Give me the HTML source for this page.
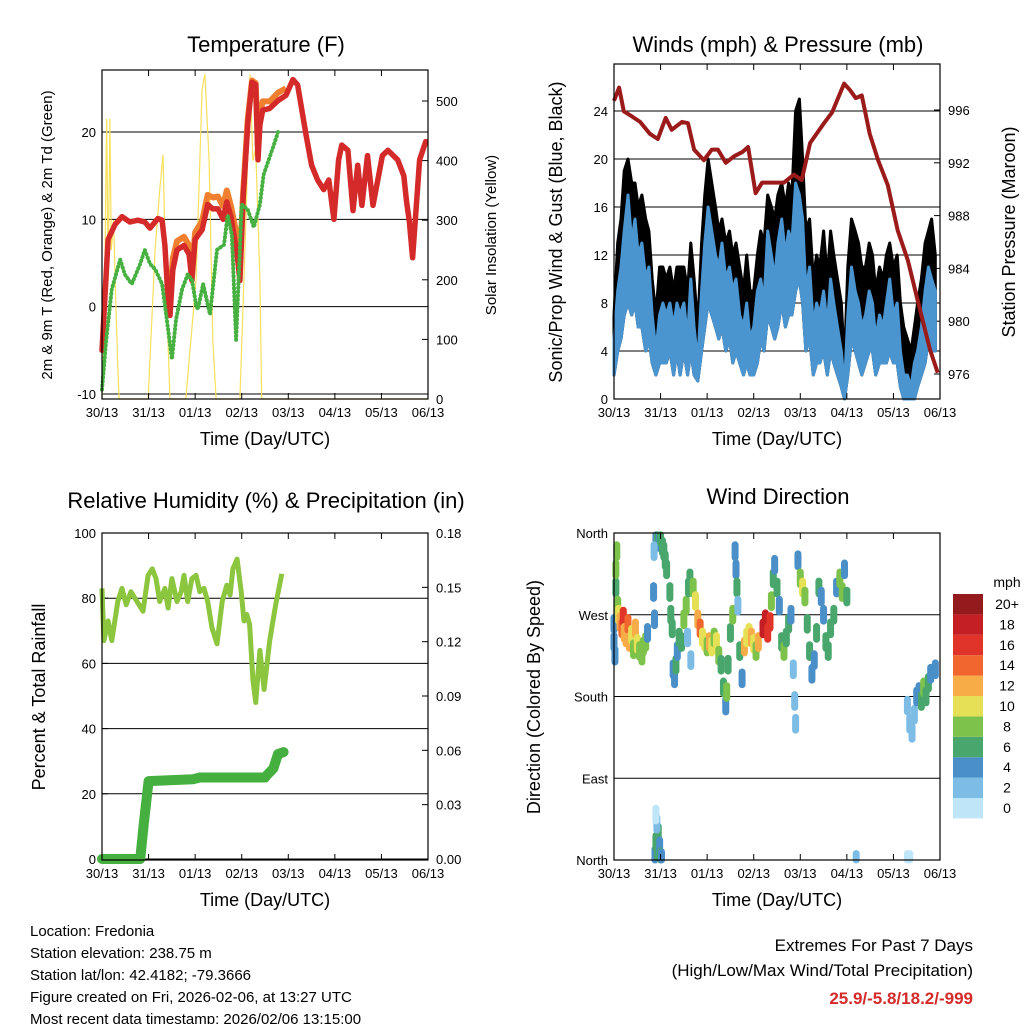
<!DOCTYPE html>
<html><head><meta charset="utf-8"><style>
body{margin:0;background:#fff;}
svg text{font-family:"Liberation Sans",sans-serif;fill:#000;}
</style></head><body>
<svg id="c" width="1024" height="1024" xmlns="http://www.w3.org/2000/svg"></svg>
<script>
// ---------- DATA ----------
const dayLabels=["30/13","31/13","01/13","02/13","03/13","04/13","05/13","06/13"];
// Temperature (F)
const tT=[0,0.13,0.28,0.43,0.6,0.77,0.92,1.03,1.2,1.29,1.35,1.42,1.46,1.52,1.61,1.76,1.87,1.93,2.0,2.15,2.27,2.38,2.49,2.6,2.68,2.77,2.9,2.96,3.03,3.13,3.22,3.3,3.35,3.39,3.45,3.6,3.78,3.95,4.1,4.2,4.38,4.5,4.63,4.76,4.87,4.98,5.08,5.15,5.28,5.39,5.49,5.58,5.7,5.82,6.02,6.14,6.35,6.48,6.54,6.6,6.67,6.82,6.95];
const tempRed=[-5,7.7,9.4,10.3,9.7,9.9,9.7,9,10.1,9.9,7,0.8,-1,4.2,6.5,7,6,3,7.7,8.8,11.7,11.2,11.2,10,12,10.3,6,3,12.3,21,25.7,25.4,16.8,20.8,22.5,22.7,23.6,24.2,26,25.4,19.7,16.2,14.5,13.4,14.5,10,16.8,18.5,17.9,11,16.2,11.6,17.3,11.6,17.3,17.9,16.8,15,12,9.7,5.6,16.8,18.9];
const tO=[1.4,1.46,1.52,1.61,1.76,1.87,1.93,2.0,2.15,2.27,2.38,2.49,2.6,2.68,2.77,2.9,2.96,3.03,3.13,3.22,3.3,3.35,3.39,3.45,3.6,3.78,3.95];
const tempOrange=[2.5,0.5,5.5,7.5,8,7,4,8.5,9.8,12.8,12.5,12.6,11.5,13.3,11.5,8,5,13,21.5,25.9,25.6,18,22,23.5,23.5,24.5,25];
const tD=[0,0.09,0.21,0.39,0.49,0.64,0.82,0.92,1.03,1.14,1.29,1.42,1.5,1.59,1.72,1.84,1.93,2.02,2.06,2.17,2.32,2.47,2.62,2.7,2.79,2.88,3.0,3.13,3.26,3.39,3.47,3.58,3.69,3.78];
const tempDew=[-9.5,-3.8,2,5.4,3.7,2.6,4.9,6.5,4.9,4.3,2.6,-2.6,-6,-1.5,2,3.7,3.1,0.2,-0.3,2.6,-0.9,6.5,7.1,10.5,8.2,-3.8,11.7,11.1,9.1,11.7,15.1,16.8,18.5,20];
const sunT=[0,0.05,0.1,0.13,0.17,0.2,0.25,0.3,0.35,0.37,0.99,1.14,1.24,1.31,1.37,1.46,1.8,2.02,2.15,2.21,2.3,2.38,2.45,2.96,3.09,3.18,3.24,3.3,3.39,3.43,7];
const sunW=[0,150,470,200,470,250,300,150,30,0,0,250,350,410,200,0,0,200,520,545,400,100,0,0,300,545,400,420,200,0,0];
// Winds & pressure
const pT=[0,0.11,0.21,0.39,0.56,0.77,0.94,1.11,1.24,1.46,1.59,1.72,1.93,2.1,2.23,2.4,2.58,2.75,2.88,3.04,3.18,3.43,3.65,3.86,4.03,4.21,4.51,4.68,4.94,5.07,5.19,5.32,5.49,5.67,5.88,6.09,6.31,6.52,6.78,6.95];
const pres=[996.7,997.7,995.9,995.5,995.1,994.2,993.8,995.4,994.5,995.1,995,993,992.2,993,993,992,992.5,992.8,993.2,989.7,990.5,990.5,990.5,991.1,990.7,993.5,995,995.8,998,997.5,996.9,997.1,994.2,992.2,990.3,986.9,984.6,981.6,977.9,976.1];
const wT=[0,0.08,0.15,0.22,0.3,0.38,0.45,0.52,0.6,0.68,0.75,0.82,0.9,0.98,1.05,1.12,1.2,1.28,1.35,1.42,1.5,1.58,1.65,1.72,1.8,1.88,1.95,2.02,2.1,2.18,2.25,2.32,2.4,2.48,2.55,2.62,2.7,2.78,2.85,2.92,3.0,3.08,3.15,3.22,3.3,3.38,3.45,3.52,3.6,3.68,3.75,3.82,3.9,3.98,4.05,4.12,4.2,4.28,4.35,4.42,4.5,4.58,4.65,4.72,4.8,4.88,4.95,5.02,5.1,5.18,5.25,5.32,5.4,5.48,5.55,5.62,5.7,5.78,5.85,5.92,6.0,6.08,6.15,6.22,6.3,6.38,6.45,6.52,6.6,6.68,6.75,6.82,6.9];
const windHi=[5,9,11,14,17,13,15,12,13,10,11,7,4,7,8,7,8,6,8,7,8,5,10,6,3,9,13,16,14,12,11,13,10,11,9,10,7,6,8,5,6,9,10,8,14,12,10,13,15,12,14,13,18,17,15,9,11,6,8,7,9,6,10,8,6,4,1,7,11,9,8,6,7,9,8,5,7,6,8,10,7,8,4,2,2,1,3,4,6,9,11,10,9];
const windLo=[2,4,5,7,8,7,8,6,6,4,5,3,2,3,3,3,4,2,4,2,4,2,4,2,1.5,4,6,8,7,6,5,6,4,5,3,4,3,2,3,2,2,3,5,4,7,6,5,6,8,6,7,7,9,10,8,4,5,2,3,3,4,2,4,3,2,1,0,2,5,4,3,2,3,4,4,2,3,3,3,4,3,3,1,0,0,0,0,1,2,3,5,4,4];
const gustHi=[7,13,15,19,20,18,18,16,17,15,14,10,7,11,11,10,11,9,11,11,11,9,13,10,6,13,17,20,18,16,14,15,13,14,12,13,11,9,12,9,9,12,14,13,17,16,15,17,18,16,18,17,24,25,20,14,15,10,12,11,14,10,14,12,10,8,3,11,15,14,13,11,11,13,12,9,11,10,12,13,11,12,8,6,5,4,6,8,10,13,14,15,12];
// RH & precip
const rhT=[0,0.04,0.13,0.21,0.34,0.43,0.52,0.62,0.88,0.99,1.08,1.16,1.24,1.35,1.42,1.5,1.61,1.7,1.76,1.84,1.93,2.02,2.1,2.19,2.27,2.36,2.47,2.58,2.68,2.75,2.81,2.9,2.99,3.05,3.11,3.17,3.24,3.3,3.39,3.48,3.6,3.73,3.86];
const rh=[83,67,73,67,79,83,78,82,76,87,89,86,79,83,77,86,79,82,87,79,86,87,82,83,79,71,66,79,84,81,89,92,82,73,75,72,55,48,64,52,67,78,87.5];
const rnT=[0,0.82,0.9,1.0,1.95,2.1,3.5,3.53,3.68,3.78,3.9];
const rain=[0,0,0.02,0.043,0.044,0.045,0.045,0.046,0.05,0.058,0.059];
// Wind direction [day, degrees, mph]
const dirT=[0,0,0.02,0.04,0.04,0.06,0.08,0.1,0.13,0.17,0.2,0.22,0.26,0.3,0.33,0.38,0.42,0.46,0.5,0.55,0.6,0.63,0.68,0.72,0.9,0.93,0.97,1.0,1.04,1.07,1.1,1.13,0.85,0.86,0.87,1.2,1.22,1.25,1.27,1.3,1.33,1.36,1.4,1.45,1.5,1.55,1.6,1.63,1.58,1.65,1.7,1.75,1.8,1.85,1.9,1.95,2.0,2.05,2.1,2.15,2.2,2.25,2.3,2.35,2.4,2.42,2.45,2.5,2.55,2.6,2.62,2.64,2.66,2.7,2.75,2.8,2.85,2.9,2.95,3.0,3.05,3.1,3.2,3.25,3.3,3.35,3.38,3.42,3.45,3.5,3.55,3.6,3.65,3.7,3.75,3.8,3.85,3.88,3.9,3.95,4.0,4.05,4.1,4.15,4.2,4.25,4.3,4.35,4.4,4.45,4.5,4.55,4.6,4.65,4.72,4.78,4.85,4.9,4.95,5.0,6.3,6.35,6.4,6.45,6.5,6.55,6.6,6.65,6.7,6.75,6.8,6.9,0.88,0.9,0.93,0.95,0.98,1.0,1.02,0.92,0.9,5.2,6.3,6.35];
const dirD=[260,240,225,300,320,340,280,270,262,255,268,250,245,260,240,248,232,255,238,230,225,235,240,250,355,360,350,358,345,340,330,320,295,340,265,295,270,255,210,200,215,230,245,240,265,280,300,310,245,220,300,285,265,255,245,240,235,240,235,245,240,225,215,190,170,185,215,250,270,340,320,300,280,230,200,235,245,250,245,238,230,240,255,265,250,262,285,310,325,300,280,240,230,245,260,270,210,175,150,330,310,300,290,260,230,205,220,250,300,290,270,240,230,255,270,300,310,295,320,290,170,150,140,160,180,185,175,190,180,195,205,210,5,20,10,30,15,3,2,40,50,0,0,0];
const dirS=[4,4,4,7,8,9,8,10,12,14,16,13,12,15,12,10,9,12,10,9,8,9,8,4,4,6,5,7,6,7,6,6,4,2,4,6,7,6,4,4,6,5,7,6,9,8,6,7,2,3,8,10,12,14,11,10,9,12,10,9,10,8,7,6,4,8,7,7,8,4,4,6,2,6,4,12,10,10,12,10,9,13,18,18,17,16,9,7,4,6,4,7,8,7,6,4,2,2,2,4,9,10,8,7,6,4,5,6,6,4,4,6,7,7,6,4,8,8,4,6,2,2,2,2,4,5,6,8,7,6,4,4,4,6,7,6,5,6,4,2,1,2,1,1];
const speedColors=["#bfe5f8","#7cbce5","#4a8fc8","#49a66d","#7dc24a","#e6e057","#f7ac48","#f0662e","#e0342a","#c41f24","#951a1e"];
const speedLabels=["0","2","4","6","8","10","12","14","16","18","20+"];

// ---------- HELPERS ----------
const svg=document.getElementById('c');
const NS="http://www.w3.org/2000/svg";
function el(tag,attrs,parent){const e=document.createElementNS(NS,tag);for(const k in attrs)e.setAttribute(k,attrs[k]);(parent||svg).appendChild(e);return e;}
function txt(s,x,y,size,anchor,parent,rot){const e=el('text',{x:x,y:y,'font-size':size,'text-anchor':anchor||'middle'},parent);if(rot)e.setAttribute('transform','rotate('+rot+' '+x+' '+y+')');e.textContent=s;return e;}
function linearScale(d0,d1,r0,r1){return v=>r0+(v-d0)*(r1-r0)/(d1-d0);}
function pathFrom(xs,ys,sx,sy){return xs.map((t,i)=>(i?'L':'M')+sx(t).toFixed(1)+','+sy(ys[i]).toFixed(1)).join('');}

function frame(g,L,T,R,B,sx){
  const f=el('rect',{x:L,y:T,width:R-L,height:B-T,fill:'none',stroke:'#000','stroke-width':1.2},g);
  
  for(let d=0;d<=7;d++){const x=sx(d);
    el('line',{x1:x,y1:B,x2:x,y2:B-6,stroke:'#000','stroke-width':1},g);
    el('line',{x1:x,y1:T,x2:x,y2:T+6,stroke:'#000','stroke-width':1},g);
    const l=txt(dayLabels[d],x,B+18,13,'middle',g);
    }
  const xt=txt("Time (Day/UTC)",(L+R)/2,B+46,18,'middle',g);
  
}
function yTicks(g,vals,sy,x,side,grid,L,R,fmt){
  vals.forEach(v=>{const y=sy(v);
    if(grid)el('line',{x1:L,y1:y,x2:R,y2:y,stroke:'#000','stroke-width':1},g);
    el('line',{x1:x,y1:y,x2:x+(side<0?6:-6),y2:y,stroke:'#000','stroke-width':1},g);
    const t=txt(fmt?fmt(v):String(v),side<0?x-6:x+8,y+5,13,side<0?'end':'start',g);
    });
}

// ---------- PANEL 1: Temperature ----------
(function(){
  const g=el('g',{});
  const L=102,R=428,T=70,B=399;
  const sx=linearScale(0,7,L,R), sy=linearScale(-10,20,394,132), sr=linearScale(0,500,399,101);
  yTicks(g,[-10,0,10,20],sy,L,-1,true,L,R);
  yTicks(g,[0,100,200,300,400,500],sr,R,1,false);
  const sun=el('path',{d:pathFrom(sunT,sunW,sx,sr),fill:'none',stroke:'#f7e05a','stroke-width':1.2},g);
  
  const o=el('path',{d:pathFrom(tO,tempOrange,sx,sy),fill:'none',stroke:'#f08030','stroke-width':6,'stroke-linejoin':'round'},g);
  
  const r=el('path',{d:pathFrom(tT,tempRed,sx,sy),fill:'none',stroke:'#d42a2a','stroke-width':5.5,'stroke-linejoin':'round','stroke-linecap':'round'},g);
  
  const d=el('path',{d:pathFrom(tD,tempDew,sx,sy),fill:'none',stroke:'#46b040','stroke-width':4,'stroke-dasharray':'0.5 3.5','stroke-linecap':'round'},g);
  
  frame(g,L,T,R,B,sx);
  const t1=txt("Temperature (F)",266,52,22,'middle',g);
  const a=txt("2m & 9m T (Red, Orange) & 2m Td (Green)",52,235,15,'middle',g,-90);
  const b=txt("Solar Insolation (Yellow)",496,235,15,'middle',g,-90);
})();

// ---------- PANEL 2: Winds & Pressure ----------
(function(){
  const g=el('g',{});
  const L=614,R=940,T=64,B=399;
  const sx=linearScale(0,7,L,R), sy=linearScale(0,24,399,111), sp=linearScale(976,996,374,110);
  yTicks(g,[0,4,8,12,16,20,24],sy,L,-1,true,L,R);
  yTicks(g,[976,980,984,988,992,996],sp,R,1,false);
  const back=k=>wT.slice().reverse().map((t,i)=>'L'+sx(t).toFixed(1)+','+sy(k[wT.length-1-i]).toFixed(1)).join('')+'Z';
  const gb=el('path',{d:pathFrom(wT,gustHi,sx,sy)+back(windLo),fill:'#000',stroke:'#000','stroke-width':3,'stroke-linejoin':'round'},g);
  
  const wb=el('path',{d:pathFrom(wT,windHi,sx,sy)+back(windLo),fill:'#4a94d0',stroke:'#4a94d0','stroke-width':3,'stroke-linejoin':'round'},g);
  
  const p=el('path',{d:pathFrom(pT,pres,sx,sp),fill:'none',stroke:'#9b1b1b','stroke-width':4,'stroke-linejoin':'round'},g);
  
  frame(g,L,T,R,B,sx);
  const t1=txt("Winds (mph) & Pressure (mb)",778,52,22,'middle',g);
  const a=txt("Sonic/Prop Wind & Gust (Blue, Black)",562,232,18,'middle',g,-90);
  const b=txt("Station Pressure (Maroon)",1015,232,18,'middle',g,-90);
})();

// ---------- PANEL 3: RH & Precip ----------
(function(){
  const g=el('g',{});
  const L=102,R=428,T=533,B=860;
  const sx=linearScale(0,7,L,R), sy=linearScale(0,100,859,533), sr=linearScale(0,0.18,859,533);
  yTicks(g,[0,20,40,60,80,100],sy,L,-1,true,L,R);
  yTicks(g,[0,0.03,0.06,0.09,0.12,0.15,0.18],sr,R,1,false,0,0,v=>v.toFixed(2));
  const h=el('path',{d:pathFrom(rhT,rh,sx,sy),fill:'none',stroke:'#8cc63e','stroke-width':5,'stroke-linejoin':'round'},g);
  
  const r=el('path',{d:pathFrom(rnT,rain,sx,sr),fill:'none',stroke:'#45b03f','stroke-width':10,'stroke-linejoin':'round','stroke-linecap':'round'},g);
  
  frame(g,L,T,R,B,sx);
  const t1=txt("Relative Humidity (%) & Precipitation (in)",266,508,22,'middle',g);
  const a=txt("Percent & Total Rainfall",45,697,18,'middle',g,-90);
})();

// ---------- PANEL 4: Wind Direction ----------
(function(){
  const g=el('g',{});
  const L=614,R=940,T=533,B=860;
  const sx=linearScale(0,7,L,R), sy=linearScale(0,360,860,533);
  const dirLabels=["North","East","South","West","North"];
  [0,90,180,270,360].forEach((v,i)=>{const y=sy(v);
    el('line',{x1:L,y1:y,x2:R,y2:y,stroke:'#000','stroke-width':1},g);
    const t=txt(dirLabels[i],L-6,y+5,13,'end',g);});
  dirT.forEach((t,i)=>{
    const d=Math.min(dirD[i],356);
    const c=el('line',{x1:sx(t),y1:sy(Math.max(d-7,0)),x2:sx(t),y2:sy(Math.min(d+7,358)),stroke:speedColors[Math.min(10,Math.floor(dirS[i]/2))],'stroke-width':7,'stroke-linecap':'round'},g);
    
    
  });
  frame(g,L,T,R,B,sx);
  const t1=txt("Wind Direction",778,504,22,'middle',g);
  const a=txt("Direction (Colored By Speed)",540,697,18,'middle',g,-90);
  const lg=el('g',{},g);
  txt("mph",1007,587,14,'middle',lg);
  speedColors.forEach((c,i)=>{const y=594+(10-i)*20.4;
    const r=el('rect',{x:953,y:y,width:30,height:20.4,fill:c},lg);
    
    txt(speedLabels[i],1007,y+15,14,'middle',lg);});
})();

// ---------- FOOTER ----------
(function(){
  const g=el('g',{});
  ["Location: Fredonia","Station elevation: 238.75 m","Station lat/lon: 42.4182; -79.3666","Figure created on Fri, 2026-02-06, at 13:27 UTC","Most recent data timestamp: 2026/02/06 13:15:00"].forEach((s,i)=>txt(s,30,936+i*22,15,'start',g));
  const h=el('g',{});
  txt("Extremes For Past 7 Days",973,951,17,'end',h);
  txt("(High/Low/Max Wind/Total Precipitation)",973,976,17,'end',h);
  const r=txt("25.9/-5.8/18.2/-999",973,1004,17,'end',h);r.setAttribute('fill','#d42a2a');r.setAttribute('font-weight','bold');r.style.fill='#d42a2a';
})();
</script>
</body></html>
